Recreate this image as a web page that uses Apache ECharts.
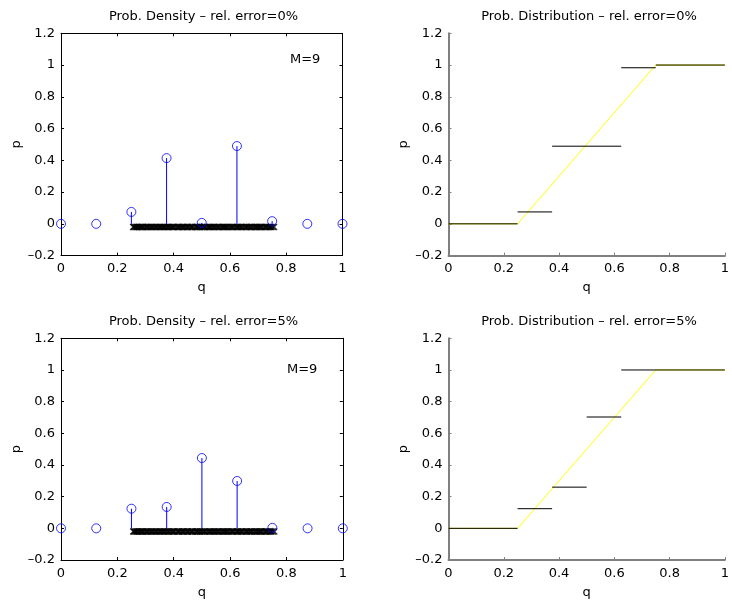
<!DOCTYPE html>
<html>
<head>
<meta charset="utf-8">
<script src="https://cdn.jsdelivr.net/npm/echarts@6/dist/echarts.min.js"></script>
<style>html,body{margin:0;padding:0;background:#fff}#c{width:732px;height:606px}</style>
</head>
<body>
<div id="c"></div>
<script>
// ---- data ----
const qGrid = [0, 0.125, 0.25, 0.375, 0.5, 0.625, 0.75, 0.875, 1];
const density0 = [0, 0, 0.075, 0.414, 0.006, 0.49, 0.017, 0, 0];
const density5 = [0, 0, 0.124, 0.135, 0.444, 0.299, 0.003, 0, 0];
const sampleQ = [0.256,0.259,0.262,0.266,0.269,0.271,0.276,0.279,0.283,0.287,0.290,0.292,0.298,0.302,0.305,0.309,0.313,0.318,0.321,0.325,0.329,0.334,0.337,0.341,0.346,0.350,0.353,0.357,0.361,0.365,0.368,0.372,0.377,0.381,0.384,0.389,0.393,0.397,0.400,0.404,0.411,0.415,0.418,0.421,0.427,0.430,0.434,0.437,0.442,0.447,0.450,0.453,0.459,0.463,0.466,0.468,0.475,0.480,0.483,0.485,0.489,0.493,0.496,0.501,0.506,0.509,0.512,0.518,0.523,0.527,0.530,0.533,0.538,0.542,0.545,0.549,0.554,0.558,0.561,0.566,0.571,0.575,0.578,0.581,0.585,0.588,0.592,0.597,0.602,0.606,0.609,0.613,0.619,0.624,0.627,0.629,0.634,0.638,0.641,0.645,0.651,0.656,0.659,0.662,0.667,0.671,0.675,0.678,0.684,0.688,0.693,0.696,0.699,0.704,0.707,0.710,0.714,0.720,0.725,0.728,0.731,0.736,0.741,0.744,0.747,0.752,0.757];
const sampleP = -0.02;
const stepEdges0 = [0, 0.25, 0.375, 0.625, 0.75, 1];
const stepValues0 = [0, 0.075, 0.489, 0.983, 1.0];
const stepEdges5 = [0, 0.25, 0.375, 0.5, 0.625, 1];
const stepValues5 = [0, 0.124, 0.26, 0.703, 1.0];
const trueCdfQ = [0, 0.25, 0.75, 1];
const trueCdfP = [0, 0, 1, 1];
const titles = ['Prob. Density \u2013 rel. error=0%', 'Prob. Distribution \u2013 rel. error=0%',
                'Prob. Density \u2013 rel. error=5%', 'Prob. Distribution \u2013 rel. error=5%'];
const annotation = 'M=9';
const xName = 'q', yName = 'p';

// ---- chart ----
const FONT = 'DejaVu Sans';
const chart = echarts.init(document.getElementById('c'), null, {renderer: 'canvas'});
const fmt = v => String(Math.round(v * 10) / 10).replace('-', '\u2013');

const grids = [
  {left: 61, top: 33.3, width: 281.5, height: 222.3},     // TL
  {left: 448.5, top: 33.3, width: 277, height: 222.3},    // TR
  {left: 61, top: 338.3, width: 281.8, height: 221.7},    // BL
  {left: 448.5, top: 338.3, width: 277, height: 221.7}    // BR
];

function xMain(g, grey) {
  return {type: 'value', gridIndex: g, position: 'bottom', min: 0, max: 1, interval: 0.2,
    name: xName, nameLocation: 'middle', nameGap: 26,
    nameTextStyle: {color: '#000', fontFamily: FONT, fontSize: 13},
    axisLine: {show: true, onZero: false, lineStyle: {color: grey ? '#808080' : '#000', width: grey ? 2 : 1}},
    axisTick: {show: true, inside: true, length: 3, lineStyle: {color: grey ? '#808080' : '#000'}},
    axisLabel: {color: '#000', fontFamily: FONT, fontSize: 13, margin: 7, formatter: fmt},
    splitLine: {show: false}};
}
function yMain(g, grey) {
  return {type: 'value', gridIndex: g, position: 'left', min: -0.2, max: 1.2, interval: 0.2,
    name: yName, nameLocation: 'middle', nameGap: 38,
    nameTextStyle: {color: '#000', fontFamily: FONT, fontSize: 13},
    axisLine: {show: true, onZero: false, lineStyle: {color: grey ? '#808080' : '#000', width: grey ? 2 : 1}},
    axisTick: {show: true, inside: true, length: 3, lineStyle: {color: grey ? '#808080' : '#000'}},
    axisLabel: {color: '#000', fontFamily: FONT, fontSize: 13, margin: 6, formatter: fmt},
    splitLine: {show: false}};
}
function xTop(g) {
  return {type: 'value', gridIndex: g, position: 'top', min: 0, max: 1, interval: 0.2,
    axisLine: {show: true, onZero: false, lineStyle: {color: '#000'}},
    axisTick: {show: true, inside: true, length: 3, lineStyle: {color: '#000'}},
    axisLabel: {show: false}, splitLine: {show: false}};
}
function yRight(g) {
  return {type: 'value', gridIndex: g, position: 'right', min: -0.2, max: 1.2, interval: 0.2,
    axisLine: {show: true, onZero: false, lineStyle: {color: '#000'}},
    axisTick: {show: true, inside: true, length: 3, lineStyle: {color: '#000'}},
    axisLabel: {show: false}, splitLine: {show: false}};
}

const xAxes = [xMain(0, false), xTop(0), xMain(1, true), xMain(2, false), xTop(2), xMain(3, true)];
const yAxes = [yMain(0, false), yRight(0), yMain(1, true), yMain(2, false), yRight(2), yMain(3, true)];
const mainX = [0, 2, 3, 5], mainY = [0, 2, 3, 5];

// segment renderer: each data item is [x1, y1, x2, y2]
function segSeries(xi, yi, data, color, z) {
  return {type: 'custom', xAxisIndex: xi, yAxisIndex: yi, z: z, silent: true,
    data: data,
    encode: {x: [0, 2], y: [1, 3]},
    renderItem: (params, api) => {
      const p1 = api.coord([api.value(0), api.value(1)]);
      const p2 = api.coord([api.value(2), api.value(3)]);
      return {type: 'line', shape: {x1: p1[0], y1: p1[1], x2: p2[0], y2: p2[1]},
        style: {stroke: color, lineWidth: 1, fill: null}};
    }};
}

function densitySeries(gi, dens) {
  const xi = mainX[gi], yi = mainY[gi];
  return [
    {type: 'scatter', xAxisIndex: xi, yAxisIndex: yi, z: 2,
      data: sampleQ.map(q => [q, sampleP]),
      symbol: 'path://M0,0L10,10M10,0L0,10', symbolSize: 6,
      itemStyle: {color: 'none', borderColor: '#000', borderWidth: 1.2}, silent: true},
    segSeries(xi, yi, qGrid.map((q, i) => [q, 0, q, dens[i]]), '#0000ff', 3),
    {type: 'scatter', xAxisIndex: xi, yAxisIndex: yi, z: 4,
      data: qGrid.map((q, i) => [q, dens[i]]),
      symbol: 'circle', symbolSize: 9,
      itemStyle: {color: 'rgba(0,0,0,0)', borderColor: '#0000ff', borderWidth: 1}, silent: true}
  ];
}
function cdfSeries(gi, edges, vals) {
  const xi = mainX[gi], yi = mainY[gi];
  return [
    {type: 'line', xAxisIndex: xi, yAxisIndex: yi, z: 2,
      data: trueCdfQ.map((q, i) => [q, trueCdfP[i]]),
      showSymbol: false, symbol: 'none', lineStyle: {color: '#ffff00', width: 1}, silent: true},
    segSeries(xi, yi, vals.map((v, i) => [edges[i], v, edges[i + 1], v]), '#000', 3)
  ];
}

const textStyle = (t, x, y, align) => ({type: 'text', x: x, y: y, silent: true,
  style: {text: t, fill: '#000', font: '13px "' + FONT + '"', align: align, verticalAlign: 'top'}});

chart.setOption({
  animation: false,
  backgroundColor: '#fff',
  grid: grids,
  xAxis: xAxes,
  yAxis: yAxes,
  series: [].concat(
    densitySeries(0, density0), cdfSeries(1, stepEdges0, stepValues0),
    densitySeries(2, density5), cdfSeries(3, stepEdges5, stepValues5)),
  graphic: [
    textStyle(titles[0], 203.5, 10.3, 'center'),
    textStyle(titles[1], 589, 10.3, 'center'),
    textStyle(titles[2], 203.5, 314.7, 'center'),
    textStyle(titles[3], 589, 314.7, 'center'),
    textStyle(annotation, 290, 53, 'left'),
    textStyle(annotation, 287, 363, 'left')
  ]
});
</script>
</body>
</html>
